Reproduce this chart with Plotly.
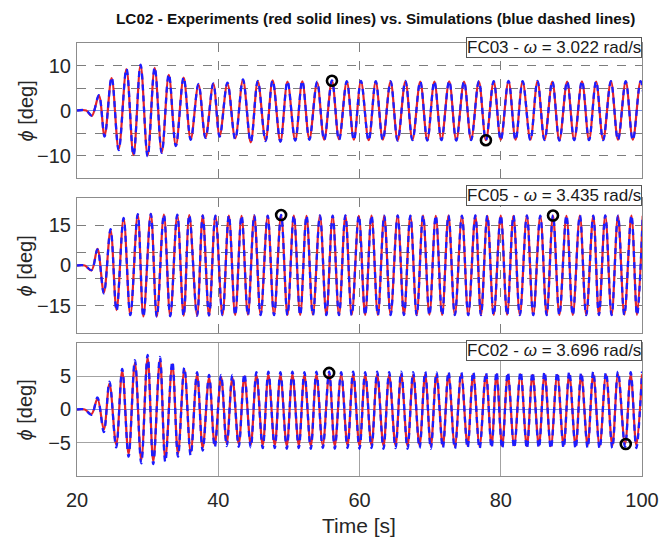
import plotly.graph_objects as go

# ---------------- data ----------------
# FC03 : extrema of the roll angle phi [deg] vs time [s]
fc03_time = [20.0, 21.3, 22.1, 23.1, 23.9, 24.9, 25.9, 27.0,
             28.0, 29.0, 30.0, 31.0, 32.0, 33.0, 34.0, 35.1,
             36.1, 37.2, 38.2, 39.3, 40.2, 41.3, 42.4, 43.5,
             44.6, 45.6, 46.7, 47.7, 48.8, 49.8, 50.9, 51.9,
             52.9, 54.0, 55.0, 56.1, 57.1, 58.2, 59.2, 60.2,
             61.3, 62.3, 63.3, 64.4, 65.4, 66.5, 67.5, 68.6,
             69.6, 70.6, 71.6, 72.7, 73.7, 74.8, 75.8, 76.9,
             77.9, 79.0, 80.0, 81.1, 82.1, 83.1, 84.2, 85.2,
             86.2, 87.3, 88.3, 89.4, 90.4, 91.5, 92.5, 93.5,
             94.5, 95.6, 96.6, 97.7, 98.7, 99.8, 100.8]
fc03_exp = [0, 0, -1.2, 3.3, -5.6, 7.2, -8.6, 9.2,
            -9.9, 10.1, -10.0, 9.5, -9.3, 7.9, -7.8, 7.3,
            -6.4, 5.7, -6.0, 5.9, -5.6, 6.0, -6.2, 6.8,
            -7.1, 6.5, -6.6, 6.7, -6.9, 6.4, -6.6, 6.5,
            -6.3, 6.2, -6.5, 6.6, -6.4, 6.4, -6.5, 6.5,
            -6.6, 6.4, -6.5, 6.4, -6.6, 6.5, -6.5, 6.4,
            -6.6, 6.4, -6.5, 6.5, -6.6, 6.4, -6.5, 6.4,
            -6.6, 6.4, -6.5, 6.5, -6.5, 6.4, -6.5, 6.5,
            -6.5, 6.4, -6.6, 6.4, -6.5, 6.5, -6.5, 6.4,
            -6.5, 6.5, -6.5, 6.4, -6.5, 6.5, -6.5]
fc03_sim = [0, 0, -1.1, 3.4, -5.8, 7.4, -8.8, 9.3,
            -10.0, 10.2, -10.2, 9.6, -9.4, 8.1, -7.9, 7.4,
            -6.5, 5.9, -6.1, 6.0, -5.8, 6.2, -6.4, 6.9,
            -7.0, 6.6, -6.8, 6.7, -6.9, 6.5, -6.7, 6.6,
            -6.5, 6.4, -6.6, 6.7, -6.6, 6.5, -6.6, 6.6,
            -6.7, 6.5, -6.6, 6.5, -6.7, 6.6, -6.6, 6.5,
            -6.7, 6.5, -6.6, 6.6, -6.7, 6.5, -6.6, 6.5,
            -6.6, 6.5, -6.6, 6.6, -6.6, 6.5, -6.6, 6.6,
            -6.6, 6.5, -6.7, 6.5, -6.6, 6.6, -6.6, 6.5,
            -6.6, 6.5, -6.6, 6.5, -6.6, 6.5, -6.6]
fc03_mark_t = [56.1, 77.9]
fc03_mark_v = [6.6, -6.6]

# FC05
fc05_time = [20.0, 21.1, 22.05, 22.9, 23.8, 24.75, 25.6, 26.6,
             27.55, 28.6, 29.4, 30.45, 31.3, 32.3, 33.2, 34.2,
             35.1, 35.9, 37.0, 37.8, 38.7, 39.6, 40.6, 41.5,
             42.4, 43.3, 44.2, 45.1, 46.0, 47.0, 47.9, 48.9,
             49.8, 50.7, 51.6, 52.5, 53.4, 54.4, 55.3, 56.2,
             57.1, 58.0, 58.9, 59.9, 60.8, 61.7, 62.6, 63.5,
             64.4, 65.4, 66.3, 67.2, 68.1, 69.0, 69.9, 70.8,
             71.7, 72.6, 73.5, 74.5, 75.4, 76.4, 77.2, 78.1,
             79.0, 80.0, 80.9, 81.8, 82.7, 83.7, 84.6, 85.6,
             86.5, 87.4, 88.3, 89.3, 90.2, 91.2, 92.1, 93.1,
             93.9, 94.8, 95.7, 96.6, 97.5, 98.5, 99.3, 100.1]
fc05_exp = [0, 0, -1.8, 6.2, -10.0, 13.2, -16.5, 17.4,
            -18.2, 18.9, -18.9, 19.1, -18.9, 18.9, -18.7, 18.7,
            -18.6, 18.7, -18.5, 18.6, -18.5, 18.4, -18.3, 18.5,
            -18.3, 18.4, -18.2, 18.5, -18.3, 18.4, -18.2, 18.7,
            -18.3, 18.5, -18.3, 18.4, -18.2, 18.5, -18.3, 18.4,
            -18.3, 18.5, -18.2, 18.4, -18.3, 18.5, -18.3, 18.4,
            -18.2, 18.5, -18.3, 18.4, -18.3, 18.5, -18.2, 18.4,
            -18.3, 18.5, -18.3, 18.4, -18.2, 18.5, -18.3, 18.4,
            -18.3, 18.5, -18.2, 18.4, -18.3, 18.5, -18.3, 18.4,
            -18.2, 18.5, -18.3, 18.4, -18.3, 18.5, -18.2, 18.4,
            -18.3, 18.5, -18.3, 18.4, -18.2, 18.5, -18.3, 18.4]
fc05_sim = [0, 0, -1.7, 6.0, -10.3, 13.5, -16.8, 17.6,
            -18.4, 19.0, -19.0, 19.1, -19.0, 18.9, -18.8, 18.8,
            -18.7, 18.7, -18.6, 18.6, -18.5, 18.5, -18.4, 18.6,
            -18.4, 18.5, -18.4, 18.6, -18.4, 18.5, -18.4, 18.7,
            -18.4, 18.6, -18.4, 18.5, -18.4, 18.6, -18.4, 18.5,
            -18.4, 18.6, -18.4, 18.5, -18.4, 18.6, -18.4, 18.5,
            -18.4, 18.6, -18.4, 18.5, -18.4, 18.6, -18.4, 18.5,
            -18.4, 18.6, -18.4, 18.5, -18.4, 18.6, -18.4, 18.5,
            -18.4, 18.6, -18.4, 18.5, -18.4, 18.6, -18.4, 18.5,
            -18.4, 18.6, -18.4, 18.5, -18.4, 18.6, -18.4, 18.5,
            -18.4, 18.6, -18.4, 18.5, -18.4, 18.6, -18.4, 18.5]
fc05_mark_t = [48.9, 87.4]
fc05_mark_v = [18.7, 18.5]

# FC02
fc02_time = [20.0, 21.1, 22.05, 22.9, 23.8, 24.6, 25.55, 26.4,
             27.3, 28.2, 29.1, 30.0, 30.8, 31.75, 32.5, 33.5,
             34.3, 35.2, 36.1, 37.0, 37.8, 38.7, 39.5, 40.4,
             41.2, 42.0, 42.9, 43.7, 44.6, 45.4, 46.3, 47.1,
             48.0, 48.8, 49.7, 50.5, 51.4, 52.2, 53.1, 53.9,
             54.8, 55.7, 56.5, 57.4, 58.3, 59.1, 60.0, 60.8,
             61.7, 62.5, 63.4, 64.2, 65.1, 65.9, 66.8, 67.6,
             68.5, 69.3, 70.1, 70.9, 71.8, 72.6, 73.5, 74.4,
             75.3, 76.1, 77.0, 77.9, 78.7, 79.4, 80.2, 81.0,
             81.9, 82.8, 83.7, 84.5, 85.4, 86.2, 87.1, 88.0,
             88.9, 89.7, 90.6, 91.4, 92.3, 93.1, 94.0, 94.9,
             95.8, 96.6, 97.6, 98.4, 99.2, 100.0]
fc02_exp = [0, 0, -0.7, 1.6, -3.0, 3.9, -5.3, 5.8,
            -6.7, 7.0, -7.6, 7.8, -7.8, 7.5, -7.4, 6.8,
            -6.7, 6.0, -6.4, 5.3, -5.8, 4.8, -5.3, 4.9,
            -5.1, 4.8, -5.2, 5.0, -5.3, 5.2, -5.4, 5.3,
            -5.4, 5.2, -5.5, 5.3, -5.4, 5.2, -5.5, 5.3,
            -5.4, 5.4, -5.5, 5.2, -5.4, 5.3, -5.5, 5.2,
            -5.4, 5.3, -5.5, 5.2, -5.4, 5.3, -5.5, 5.2,
            -5.4, 5.3, -5.5, 5.2, -5.4, 5.3, -5.5, 5.2,
            -5.4, 5.3, -5.5, 5.2, -5.4, 5.3, -5.5, 5.2,
            -5.4, 5.3, -5.5, 5.2, -5.4, 5.3, -5.5, 5.2,
            -5.4, 5.3, -5.5, 5.2, -5.4, 5.3, -5.5, 5.2,
            -5.4, 5.3, -5.2, 5.2, -5.4, 5.3]
fc02_sim = [0, 0, -0.8, 1.8, -3.4, 4.2, -5.7, 6.1,
            -7.1, 7.4, -8.1, 8.2, -8.2, 7.9, -7.9, 7.2,
            -7.1, 6.3, -6.9, 5.6, -6.2, 5.2, -5.7, 5.2,
            -5.5, 5.2, -5.6, 5.4, -5.7, 5.6, -5.8, 5.7,
            -5.8, 5.6, -5.9, 5.7, -5.8, 5.6, -5.9, 5.7,
            -5.8, 5.7, -5.9, 5.6, -5.8, 5.7, -5.9, 5.6,
            -5.8, 5.7, -5.9, 5.6, -5.8, 5.7, -5.9, 5.6,
            -5.8, 5.7, -5.9, 5.6, -5.8, 5.7, -5.9, 5.6,
            -5.8, 5.7, -5.9, 5.6, -5.8, 5.7, -5.9, 5.6,
            -5.8, 5.7, -5.9, 5.6, -5.8, 5.7, -5.9, 5.6,
            -5.8, 5.7, -5.9, 5.6, -5.8, 5.7, -5.9, 5.6,
            -5.8, 5.7, -5.6, 5.6, -5.8, 5.7]
fc02_mark_t = [55.7, 97.7]
fc02_mark_v = [5.5, -5.2]

panel_labels = ["FC03 - <i>\u03c9</i> = 3.022 rad/s",
                "FC05 - <i>\u03c9</i> = 3.435 rad/s",
                "FC02 - <i>\u03c9</i> = 3.696 rad/s"]
x_ticks = [20, 40, 60, 80, 100]
y_ticks = [[-10, 0, 10], [-15, 0, 15], [-5, 0, 5]]
y_minor = [[-5, 5], [-5, 5], []]
y_ranges = [[-15, 15], [-25, 25], [-10, 10]]
title_text = "LC02 - Experiments (red solid lines) vs. Simulations (blue dashed lines)"

# ---------------- style ----------------
FONT = "Liberation Sans, Arial, Helvetica, sans-serif"
TXT = "#262626"
RED = "#e3232a"
BLUE = "#1c1cff"
FRAME = "#8c8c8c"
W, H = 671, 539
ML, MR, MT, MB = 77, 19, 43, 63
domains = [[0.6882, 1.0], [0.3303, 0.6420], [0.0, 0.3072]]
grid_dash = ["dash", "dash", "solid"]
grid_col = ["#7d7d7d", "#7d7d7d", "#a3a3a3"]
box_y = [0.963, 1.0185, 0.944]

series = [(fc03_time, fc03_exp, fc03_sim, fc03_mark_t, fc03_mark_v),
          (fc05_time, fc05_exp, fc05_sim, fc05_mark_t, fc05_mark_v),
          (fc02_time, fc02_exp, fc02_sim, fc02_mark_t, fc02_mark_v)]

fig = go.Figure()
annotations = []
layout = dict(
    width=W, height=H,
    margin=dict(l=ML, r=MR, t=MT, b=MB, pad=0),
    paper_bgcolor="white", plot_bgcolor="white",
    showlegend=False,
    font=dict(family=FONT, color=TXT),
)

for i, (t, ex, sm, mt, mv) in enumerate(series):
    n = "" if i == 0 else str(i + 1)
    xa, ya = "x" + n, "y" + n
    fig.add_trace(go.Scatter(x=t, y=ex, xaxis=xa, yaxis=ya, mode="lines",
                             line=dict(color=RED, width=2.2, shape="spline", smoothing=1.0),
                             hoverinfo="skip"))
    fig.add_trace(go.Scatter(x=t, y=sm, xaxis=xa, yaxis=ya, mode="lines",
                             line=dict(color=BLUE, width=2.3, dash="6px,5px",
                                       shape="spline", smoothing=1.0),
                             hoverinfo="skip"))
    fig.add_trace(go.Scatter(x=mt, y=mv, xaxis=xa, yaxis=ya, mode="markers",
                             marker=dict(symbol="circle-open", size=10, color="black",
                                         line=dict(width=2.6, color="black")),
                             cliponaxis=False, hoverinfo="skip"))

    layout["xaxis" + n] = dict(
        domain=[0, 1], anchor=ya, range=[20, 100],
        tickvals=x_ticks, showticklabels=(i == 2),
        ticks="", tickfont=dict(size=20, color=TXT, family=FONT),
        showgrid=True, gridcolor=grid_col[i], griddash=grid_dash[i], gridwidth=1,
        zeroline=False, showline=True, mirror=True, linecolor=FRAME, linewidth=1,
        ticklabelstandoff=6,
        **({} if i == 0 else {"matches": "x"}),
    )
    ydict = dict(
        domain=domains[i], anchor=xa, range=y_ranges[i],
        tickvals=y_ticks[i], ticks="",
        tickfont=dict(size=20, color=TXT, family=FONT),
        showgrid=True, gridcolor=grid_col[i], griddash=grid_dash[i], gridwidth=1,
        zeroline=True, zerolinecolor="#7b93e0", zerolinewidth=1,
        showline=True, mirror=True, linecolor=FRAME, linewidth=1,
        ticklabelstandoff=1,
    )
    if y_minor[i]:
        ydict["minor"] = dict(tickvals=y_minor[i], showgrid=True, gridcolor=grid_col[i],
                              griddash=grid_dash[i], gridwidth=1, ticks="")
    layout["yaxis" + n] = ydict

    annotations.append(dict(
        text=panel_labels[i], xref="paper", x=1.0, xanchor="right",
        yref=ya + " domain", y=box_y[i], yanchor="middle",
        showarrow=False, font=dict(size=17, color="#1a1a1a", family=FONT),
        bgcolor="white", bordercolor="#555555", borderwidth=1, borderpad=0,
    ))
    annotations.append(dict(
        text="<i>\u03d5</i> [deg]", xref="paper", x=(25 - ML) / (W - ML - MR),
        xanchor="center", yref=ya + " domain", y=0.5, yanchor="middle",
        textangle=-90, showarrow=False, font=dict(size=20, color=TXT, family=FONT),
    ))

plot_h = H - MT - MB
annotations.append(dict(
    text="<b>" + title_text + "</b>", xref="paper", yref="paper",
    x=(381 - ML) / (W - ML - MR), y=(H - MB - 18) / plot_h, xanchor="center", yanchor="middle",
    showarrow=False, font=dict(size=15.3, color="#111111", family=FONT),
))
annotations.append(dict(
    text="Time [s]", xref="paper", yref="paper",
    x=(364 - ML) / (W - ML - MR), y=(H - MB - 525) / plot_h, xanchor="center", yanchor="middle",
    showarrow=False, font=dict(size=21, color=TXT, family=FONT),
))
layout["annotations"] = annotations
fig.update_layout(**layout)
fig.write_html("out.html", config={"displayModeBar": False},
               post_script="document.body.style.margin='0';document.body.style.overflow='hidden';")
